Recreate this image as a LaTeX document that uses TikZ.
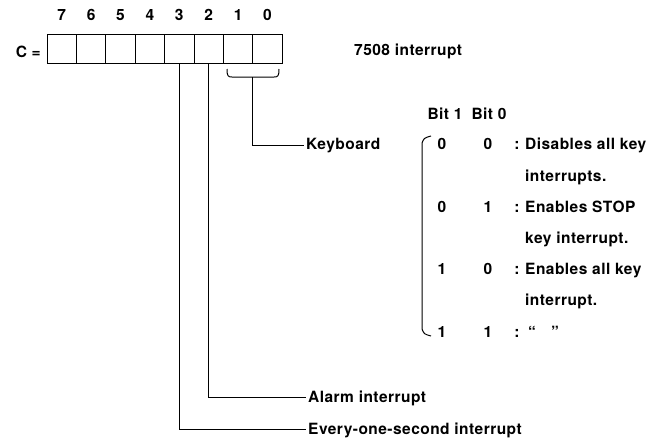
\documentclass[tikz,border=0pt]{standalone}
\usepackage{fontspec}
\setmainfont{TeX Gyre Heros}[LetterSpace=3]
\usetikzlibrary{positioning}

\begin{document}
\begin{tikzpicture}[
  x=1pt, y=-1pt,
  font=\fontsize{15.5}{18}\selectfont\bfseries,
  bitbox/.style={draw, line width=1pt, outer sep=0pt, inner sep=0pt, minimum width=29.4pt, minimum height=29pt},
  bitnum/.style={inner sep=0pt},
  txt/.style={anchor=base west, inner sep=0pt, inner xsep=2pt},
  cell/.style={anchor=base, inner sep=0pt},
  wire/.style={line width=1pt}
]
\useasboundingbox (0,0) rectangle (649,440);

% register C
\node[anchor=east, inner sep=0pt] (clbl) at (41,52) {C =};
\node[bitbox] (b7) at (61.7,48.5) {};
\node[bitbox, right=0pt of b7] (b6) {};
\node[bitbox, right=0pt of b6] (b5) {};
\node[bitbox, right=0pt of b5] (b4) {};
\node[bitbox, right=0pt of b4] (b3) {};
\node[bitbox, right=0pt of b3] (b2) {};
\node[bitbox, right=0pt of b2] (b1) {};
\node[bitbox, right=0pt of b1] (b0) {};
\node[bitnum, above=13pt of b7] (n7) {7};
\node[bitnum, above=13pt of b6] (n6) {6};
\node[bitnum, above=13pt of b5] (n5) {5};
\node[bitnum, above=13pt of b4] (n4) {4};
\node[bitnum, above=13pt of b3] (n3) {3};
\node[bitnum, above=13pt of b2] (n2) {2};
\node[bitnum, above=13pt of b1] (n1) {1};
\node[bitnum, above=13pt of b0] (n0) {0};
\node[txt] (title) at (352,55) {7508 interrupt};

% bracket under bits 1 and 0
\draw[wire] (227,69) .. controls (227,76) and (228,77) .. (232,77) -- (274,77) .. controls (278,77) and (279,76) .. (279,69);
\coordinate (brk) at (252.6,77);

% labels
\node[txt] (kbd) at (304,149) {Keyboard};
\node[txt] (alarm) at (306,402) {Alarm interrupt};
\node[txt] (every) at (306,434) {Every-one-second interrupt};

\draw[wire] (brk) |- (kbd.west);
\draw[wire] (b2.south) |- (alarm.west);
\draw[wire] (b3.south) |- (every.west);

% key table
\node[cell] (h1) at (445,119) {Bit 1};
\node[cell] (h0) at (489,119) {Bit 0};
\draw[wire] (431,136) .. controls (424,138) .. (422,143) -- (422,329) .. controls (424,334) .. (431,336);

\node[cell] (r1a) at (442,149) {0};
\node[cell] (r1b) at (488,149) {0};
\node[cell] (r1c) at (517,149) {:};
\node[txt] (r1t) at (523,149) {Disables all key};
\node[txt] (r1u) at (523,181) {interrupts.};

\node[cell] (r2a) at (442,212) {0};
\node[cell] (r2b) at (488,212) {1};
\node[cell] (r2c) at (517,212) {:};
\node[txt] (r2t) at (523,212) {Enables STOP};
\node[txt] (r2u) at (523,243) {key interrupt.};

\node[cell] (r3a) at (442,274) {1};
\node[cell] (r3b) at (488,274) {0};
\node[cell] (r3c) at (517,274) {:};
\node[txt] (r3t) at (523,274) {Enables all key};
\node[txt] (r3u) at (523,305) {interrupt.};

\node[cell] (r4a) at (442,337) {1};
\node[cell] (r4b) at (488,337) {1};
\node[cell] (r4c) at (517,337) {:};
\node[cell] (r4d) at (532,337) {``};
\node[cell] (r4e) at (555,337) {''};
\end{tikzpicture}
\end{document}
